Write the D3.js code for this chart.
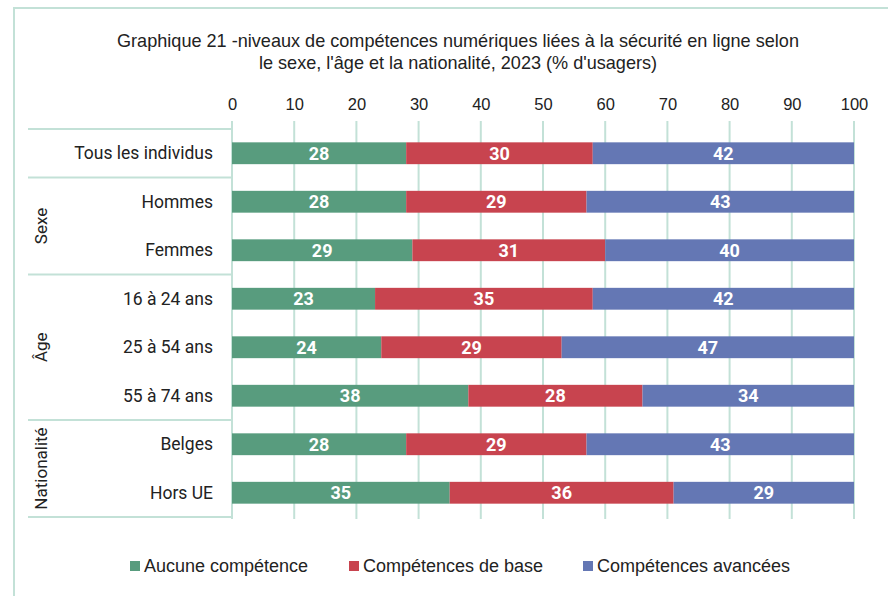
<html>
<head>
<meta charset="utf-8">
<script src="https://d3js.org/d3.v7.min.js"></script>
<style>
  body { margin: 0; background: #fff; }
  .narrow { font-family: "Liberation Sans Narrow", "Arial Narrow", sans-serif; font-stretch: condensed; }
</style>
</head>
<body>
<div class="chart"></div>
<script>
    // valeurs (% d'usagers)
    const categories = ["Tous les individus", "Hommes", "Femmes", "16 à 24 ans", "25 à 54 ans", "55 à 74 ans", "Belges", "Hors UE"];
    const groupes = [
        { name: "", first: 0, last: 0 },
        { name: "Sexe", first: 1, last: 2 },
        { name: "Âge", first: 3, last: 5 },
        { name: "Nationalité", first: 6, last: 7 }
    ];
    const series = ["Aucune compétence", "Compétences de base", "Compétences avancées"];
    const aucune = [28, 28, 29, 23, 24, 38, 28, 35];
    const base = [30, 29, 31, 35, 29, 28, 29, 36];
    const avancees = [42, 43, 40, 42, 47, 34, 43, 29];
    const ticks = [0, 10, 20, 30, 40, 50, 60, 70, 80, 90, 100];
    const couleurs = ["#589c7e", "#c8444f", "#6477b4"];

    const width = 888, height = 596;
    const svg = d3.select('.chart').append('svg')
        .attr('width', width)
        .attr('height', height);

    // cadre du graphique
    svg.append('rect')
        .attr('x', 14).attr('y', 8)
        .attr('width', 900).attr('height', 620)
        .attr('fill', 'none')
        .attr('stroke', '#c3e1d7')
        .attr('stroke-width', 2);

    // titre
    const title = svg.append('text')
        .attr('class', 'narrow')
        .attr('text-anchor', 'middle')
        .attr('font-size', 18.1)
        .attr('fill', '#222');
    title.append('tspan').attr('x', 458).attr('y', 47)
        .text("Graphique 21 -niveaux de compétences numériques liées à la sécurité en ligne selon");
    title.append('tspan').attr('x', 458).attr('y', 69)
        .text("le sexe, l'âge et la nationalité, 2023 (% d'usagers)");

    const xScale = d3.scaleLinear().domain([0, 100]).range([232, 854]);
    const yScale = d3.scaleBand().domain(categories).range([129, 517])
        .paddingInner(0.55).paddingOuter(0.275);
    const step = yScale.step();
    const top0 = 129;

    // grille verticale
    svg.append('g').selectAll('line')
        .data(ticks)
        .join('line')
        .attr('x1', d => xScale(d)).attr('x2', d => xScale(d))
        .attr('y1', 121).attr('y2', 519)
        .attr('stroke', '#c3e1d7')
        .attr('stroke-width', 2);

    // axe du haut (étiquettes seulement)
    const xAxis = d3.axisTop(xScale).tickValues(ticks).tickSize(0).tickPadding(0);
    const xAxisGroup = svg.append('g')
        .attr('transform', 'translate(0,110)')
        .call(xAxis);
    xAxisGroup.select('.domain').remove();
    xAxisGroup.selectAll('text')
        .attr('class', 'narrow')
        .attr('font-size', 16.5)
        .attr('fill', '#222');

    // tableau des catégories à gauche
    const bornes = [0, 1, 3, 6, 8];
    svg.append('g').selectAll('line')
        .data(bornes)
        .join('line')
        .attr('x1', 28).attr('x2', 232)
        .attr('y1', d => top0 + d * step).attr('y2', d => top0 + d * step)
        .attr('stroke', '#c3e1d7')
        .attr('stroke-width', 2);

    svg.append('g').selectAll('text')
        .data(categories)
        .join('text')
        .attr('x', 213)
        .attr('y', d => yScale(d) + yScale.bandwidth() / 2)
        .attr('dy', '0.35em')
        .attr('text-anchor', 'end')
        .attr('font-family', 'Roboto, sans-serif')
        .attr('font-size', 17.5)
        .attr('fill', '#222')
        .text(d => d);

    svg.append('g').selectAll('text')
        .data(groupes.filter(g => g.name))
        .join('text')
        .attr('transform', d => {
            const yc = top0 + (d.first + d.last + 1) / 2 * step;
            return `translate(41,${yc}) rotate(-90)`;
        })
        .attr('dy', '0.35em')
        .attr('text-anchor', 'middle')
        .attr('font-family', 'Roboto, sans-serif')
        .attr('font-size', 17)
        .attr('fill', '#222')
        .text(d => d.name);

    // barres empilées
    const table = categories.map((c, i) => ({ cat: c, a: aucune[i], b: base[i], c: avancees[i] }));
    const stack = d3.stack().keys(['a', 'b', 'c'])(table);

    const layers = svg.append('g').selectAll('g')
        .data(stack)
        .join('g')
        .attr('fill', (d, i) => couleurs[i]);

    layers.selectAll('rect')
        .data(d => d)
        .join('rect')
        .attr('x', d => xScale(d[0]))
        .attr('width', d => xScale(d[1]) - xScale(d[0]))
        .attr('y', d => yScale(d.data.cat))
        .attr('height', yScale.bandwidth());

    layers.selectAll('text')
        .data(d => d)
        .join('text')
        .attr('x', d => (xScale(d[0]) + xScale(d[1])) / 2)
        .attr('y', d => yScale(d.data.cat) + yScale.bandwidth() / 2)
        .attr('dy', '0.36em')
        .attr('text-anchor', 'middle')
        .attr('font-family', 'Roboto, sans-serif')
        .attr('font-weight', 'bold')
        .attr('font-size', 18)
        .attr('fill', '#fff')
        .text(d => d[1] - d[0]);

    // légende
    const legendX = [130, 349, 583];
    const legend = svg.append('g').selectAll('g')
        .data(series)
        .join('g')
        .attr('transform', (d, i) => `translate(${legendX[i]},566)`);
    legend.append('rect')
        .attr('x', 0).attr('y', -5)
        .attr('width', 10).attr('height', 10)
        .attr('fill', (d, i) => couleurs[i]);
    legend.append('text')
        .attr('class', 'narrow')
        .attr('x', 14)
        .attr('dy', '0.35em')
        .attr('font-size', 18)
        .attr('fill', '#222')
        .text(d => d);
</script>
</body>
</html>
